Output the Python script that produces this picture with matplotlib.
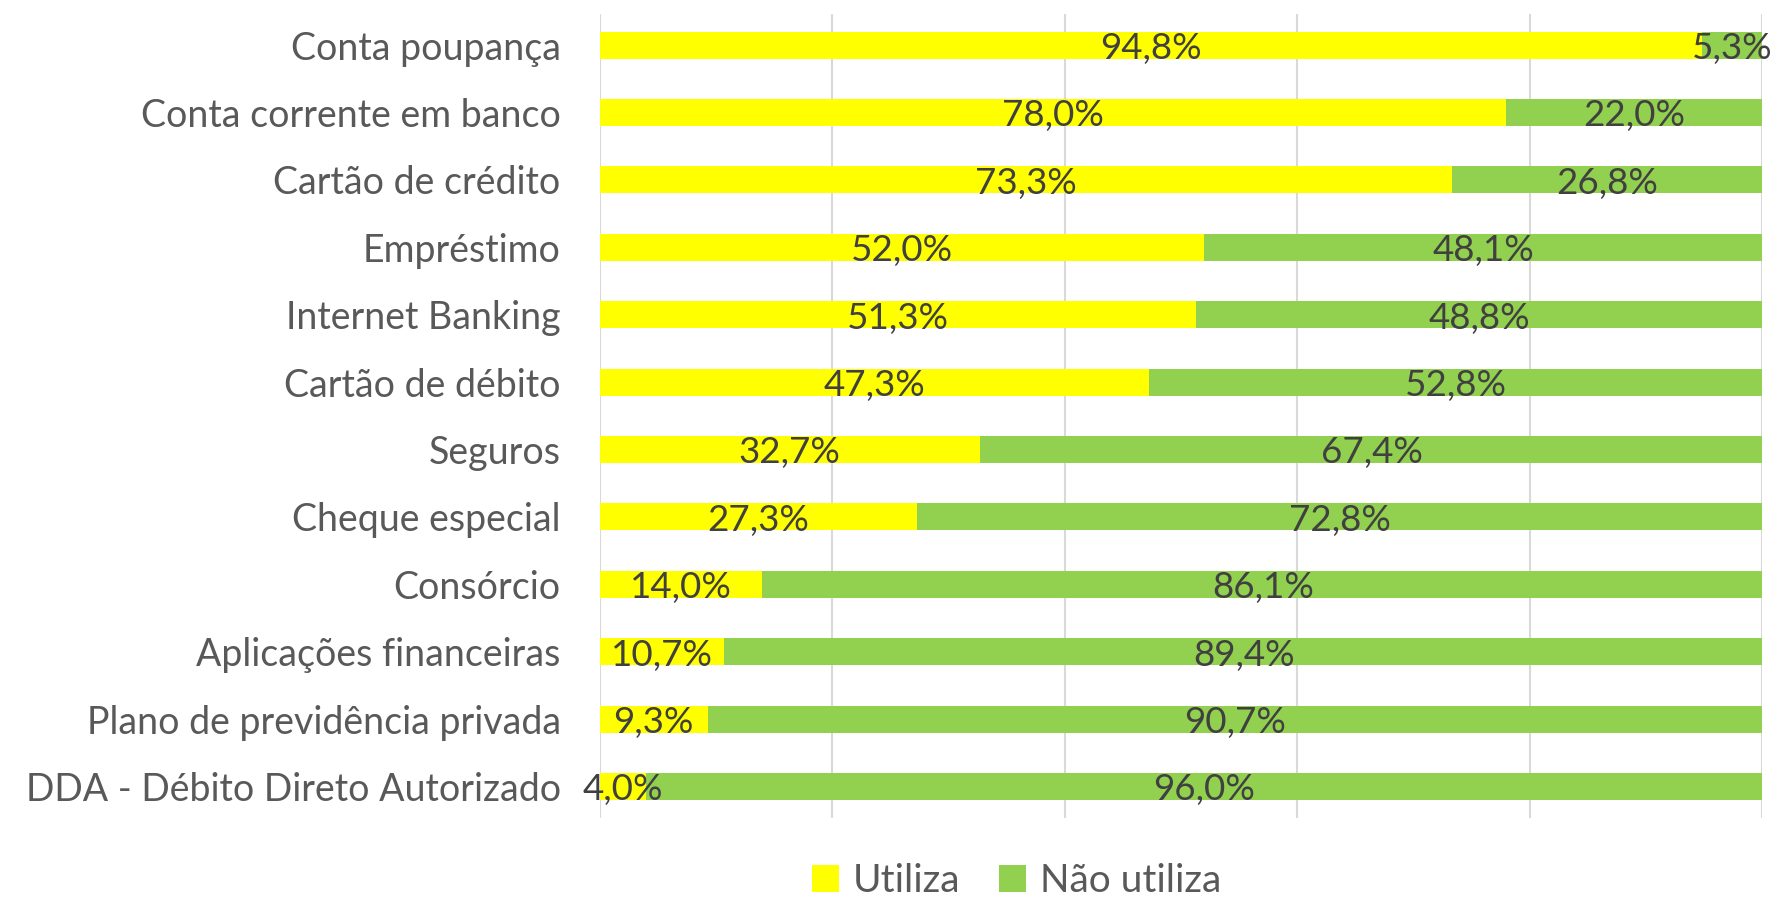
import matplotlib
matplotlib.use("Agg")
import matplotlib.pyplot as plt
import numpy as np

plt.rcParams["font.family"] = ["Lato", "DejaVu Sans"]

categorias = [
    "Conta poupança",
    "Conta corrente em banco",
    "Cartão de crédito",
    "Empréstimo",
    "Internet Banking",
    "Cartão de débito",
    "Seguros",
    "Cheque especial",
    "Consórcio",
    "Aplicações financeiras",
    "Plano de previdência privada",
    "DDA - Débito Direto Autorizado",
]
utiliza = [94.8, 78.0, 73.3, 52.0, 51.3, 47.3, 32.7, 27.3, 14.0, 10.7, 9.3, 4.0]
nao_utiliza = [5.3, 22.0, 26.8, 48.1, 48.8, 52.8, 67.4, 72.8, 86.1, 89.4, 90.7, 96.0]
series = ["Utiliza", "Não utiliza"]

amarelo = "#FFFF00"
verde = "#92D050"
cor_texto = "#595959"
cor_rotulo = "#404040"

fig = plt.figure(figsize=(17.77, 9.01), dpi=100)
ax = fig.add_axes([0.3374, 0.092, 0.6542, 0.893])

y = np.arange(len(categorias))
b1 = ax.barh(y, utiliza, height=0.4, color=amarelo, label=series[0], zorder=2)
b2 = ax.barh(y, nao_utiliza, left=utiliza, height=0.4, color=verde,
             label=series[1], zorder=2)

# rotulos de dados centralizados em cada segmento
for i in range(len(categorias)):
    ax.text(utiliza[i] / 2, y[i] + 0.05, f"{utiliza[i]:.1f}%".replace(".", ","),
            ha="center", va="center", fontsize=26.5, color=cor_rotulo, zorder=3)
    ax.text(utiliza[i] + nao_utiliza[i] / 2, y[i] + 0.05,
            f"{nao_utiliza[i]:.1f}%".replace(".", ","),
            ha="center", va="center", fontsize=26.5, color=cor_rotulo, zorder=3)

ax.set_xlim(0, 100)
ax.set_ylim(len(categorias) - 0.53, -0.47)
ax.set_xticks([0, 20, 40, 60, 80, 100])
ax.set_xticklabels([])
ax.xaxis.grid(True, color="#d9d9d9", linewidth=1.5, zorder=0)
ax.set_axisbelow(True)
ax.tick_params(axis="both", length=0)
ax.set_yticks(y)
ax.set_yticklabels(categorias, fontsize=27, color=cor_texto)
ax.tick_params(axis="y", pad=28)
for s in ax.spines.values():
    s.set_visible(False)

leg = fig.legend(handles=[b1, b2], labels=series, loc="center",
                 bbox_to_anchor=(0.572, 0.022), ncol=2, frameon=False,
                 fontsize=28, handlelength=0.7, handleheight=0.7,
                 handletextpad=0.35, columnspacing=1.0)
for t in leg.get_texts():
    t.set_color(cor_texto)

fig.savefig("out.png", dpi=100)
